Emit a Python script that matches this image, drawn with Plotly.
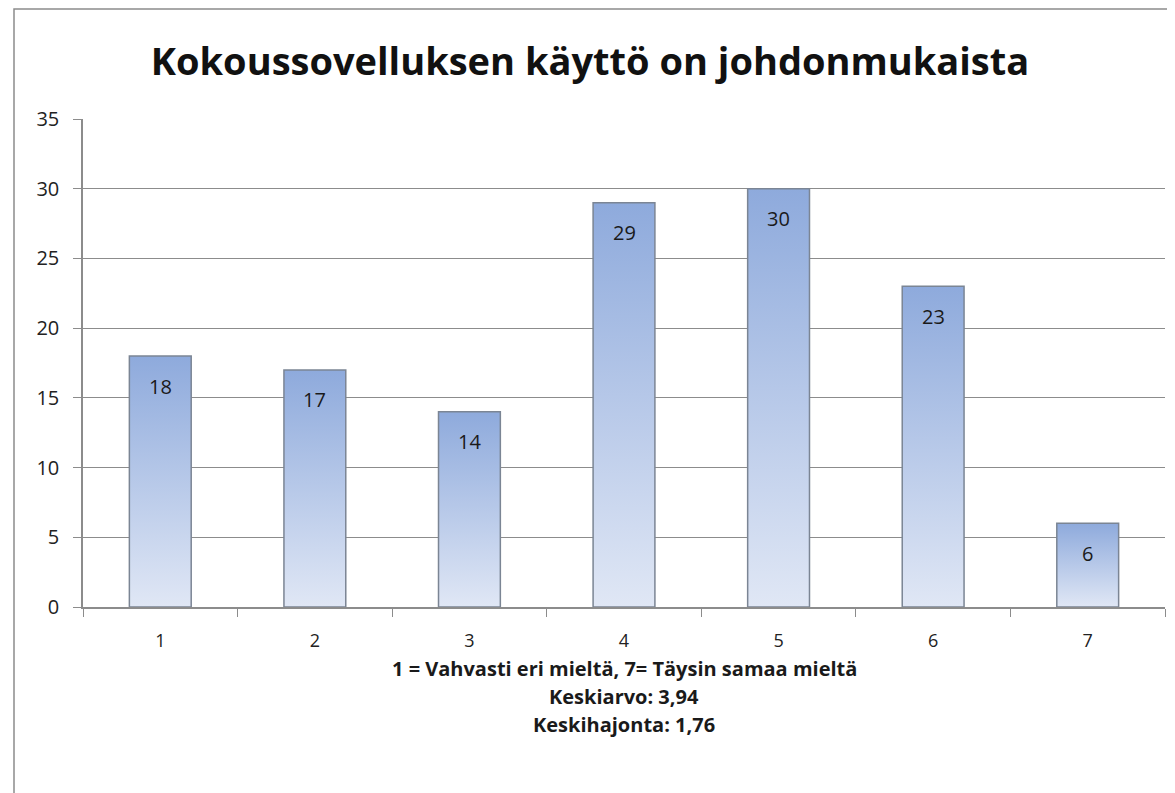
import plotly.graph_objects as go

categories = ["1", "2", "3", "4", "5", "6", "7"]
values = [18, 17, 14, 29, 30, 23, 6]
title_text = "Kokoussovelluksen käyttö on johdonmukaista"
footer_lines = ["1 = Vahvasti eri mieltä, 7= Täysin samaa mieltä", "Keskiarvo: 3,94", "Keskihajonta: 1,76"]
y_ticks = [0, 5, 10, 15, 20, 25, 30, 35]

FONT = "Open Sans"
BAR_HALF = 0.2
W, H = 1167, 785
ML, MT, PW, PH = 75, 111, 1082, 488

fig = go.Figure()

for i, v in enumerate(values):
    xs = [i - BAR_HALF, i + BAR_HALF, i + BAR_HALF, i - BAR_HALF, i - BAR_HALF]
    ys = [0, 0, v, v, 0]
    fig.add_trace(go.Scatter(
        x=xs, y=ys, xaxis="x2", mode="lines", fill="toself",
        fillgradient=dict(type="vertical",
                          colorscale=[[0, "#e0e7f5"], [1, "#8eaadc"]]),
        line=dict(color="#7b8594", width=1.5),
        hoverinfo="skip", showlegend=False,
    ))
    fig.add_annotation(x=i, y=v, xref="x2", yref="y", text=str(v),
                       showarrow=False, yanchor="middle", yshift=-30,
                       font=dict(family=FONT, size=20, color="#1a1a1a"))

fig.add_trace(go.Bar(x=categories, y=[None]*len(categories), showlegend=False,
                     hoverinfo="skip"))

for k, line in enumerate(footer_lines):
    fig.add_annotation(x=0.5, xref="paper", y=-(61 + k * 28) / PH, yref="paper",
                       text="<b>" + line + "</b>", showarrow=False,
                       yanchor="middle",
                       font=dict(family=FONT, size=20, color="#1a1a1a"))

fig.add_shape(type="rect", xref="paper", yref="paper",
              x0=(6 - ML) / PW, x1=1.2, y0=-0.6, y1=(MT + PH) / PH - 0.002,
              line=dict(color="#8c8c8c", width=1.5), layer="below")

fig.update_layout(
    width=W, height=H,
    margin=dict(l=ML, r=W - ML - PW, t=MT, b=H - MT - PH),
    paper_bgcolor="white", plot_bgcolor="white",
    title=dict(text="<b>" + title_text + "</b>", x=582 / W, xanchor="center",
               y=1 - 54 / H, yanchor="middle",
               font=dict(family=FONT, size=38, color="#111111")),
    xaxis=dict(type="category", categoryarray=categories, range=[-0.5, 6.5],
               showline=True, linecolor="#8c8c8c", linewidth=1.5,
               ticks="outside", tickson="boundaries", ticklen=8,
               tickcolor="#8c8c8c", ticklabelstandoff=17,
               showgrid=False, zeroline=False,
               tickfont=dict(family=FONT, size=18, color="#222222")),
    xaxis2=dict(overlaying="x", range=[-0.5, 6.5], visible=False),
    yaxis=dict(range=[0, 35], tickvals=y_ticks, showline=True,
               linecolor="#8c8c8c", linewidth=1.5, ticks="outside",
               ticklen=8, tickcolor="#8c8c8c", ticklabelstandoff=10,
               showgrid=True, gridcolor="#8c8c8c", gridwidth=1,
               zeroline=False,
               tickfont=dict(family=FONT, size=20, color="#222222")),
)

fig.write_html("out.html")
